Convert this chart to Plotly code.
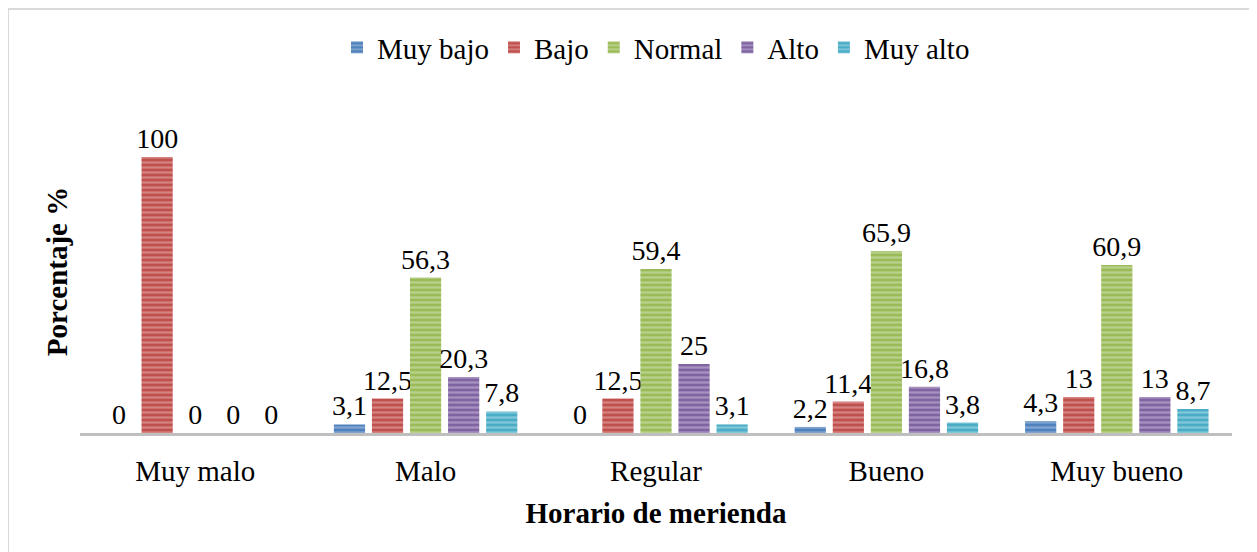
import plotly.graph_objs as go

categories = ['Muy malo', 'Malo', 'Regular', 'Bueno', 'Muy bueno']
series_names = ['Muy bajo', 'Bajo', 'Normal', 'Alto', 'Muy alto']
muy_bajo = [0, 3.1, 0, 2.2, 4.3]
bajo = [100, 12.5, 12.5, 11.4, 13]
normal = [0, 56.3, 59.4, 65.9, 60.9]
alto = [0, 20.3, 25, 16.8, 13]
muy_alto = [0, 7.8, 3.1, 3.8, 8.7]

series_values = [muy_bajo, bajo, normal, alto, muy_alto]
colors = ['#4F81BD', '#C0504D', '#9BBB59', '#8064A2', '#4BACC6']
stripes = ['#B3CAE4', '#E8B5B3', '#DAE8C0', '#CBBEDD', '#B5E1EE']

# page body has an 8px margin, so the figure is drawn shifted by 8px
W, H = 1257, 552
ml, mr, mt, mb = 72, 33, 102, 127
pw, ph = W - ml - mr, H - mt - mb


def fmt(v):
    return ('%g' % v).replace('.', ',')


traces = []
for name, vals, c, s in zip(series_names, series_values, colors, stripes):
    traces.append(go.Bar(
        x=categories,
        y=vals,
        name=name,
        marker=dict(color=c, line=dict(width=0),
                    pattern=dict(shape='-', fgcolor=s, bgcolor=c, size=5, solidity=0.45)),
        text=[fmt(v) for v in vals],
        textposition='outside',
        constraintext='none',
        textfont=dict(family='Liberation Serif', size=28, color='black'),
        cliponaxis=False,
    ))

layout = go.Layout(
    width=W, height=H,
    margin={'l': ml, 'r': mr, 't': mt, 'b': mb, 'autoexpand': False},
    paper_bgcolor='white',
    plot_bgcolor='white',
    font=dict(family='Liberation Serif', size=29, color='black'),
    barmode='group',
    bargap=0.174,
    bargroupgap=0.18,
    showlegend=True,
    legend=dict(orientation='h', x=0.5, xanchor='center', y=1 + (mt - 14) / ph, yanchor='top',
                font=dict(size=29), itemwidth=30, tracegroupgap=0),
    xaxis=dict(
        title=dict(text='<b>Horario de merienda</b>', font=dict(size=29), standoff=17),
        showline=True, linecolor='#BFBFBF', linewidth=3,
        ticks='', showgrid=False, automargin=False,
        tickfont=dict(size=29), ticklabelstandoff=10,
    ),
    yaxis=dict(
        title=dict(text='<b>Porcentaje %</b>', font=dict(size=29), standoff=2),
        range=[0, 100 * ph / 276.0],
        showticklabels=False, showgrid=False, zeroline=False, ticks='', automargin=False,
    ),
    shapes=[dict(
        type='rect', xref='paper', yref='paper',
        x0=(0 - ml) / pw, x1=(W + 5 - ml) / pw,
        y0=(mt + ph - (H + 5)) / ph, y1=(mt + ph - 1) / ph,
        line=dict(color='#D9D9D9', width=2), fillcolor='rgba(0,0,0,0)', layer='below',
    )],
)

fig = go.Figure(data=traces, layout=layout)
fig.write_html("out.html")
